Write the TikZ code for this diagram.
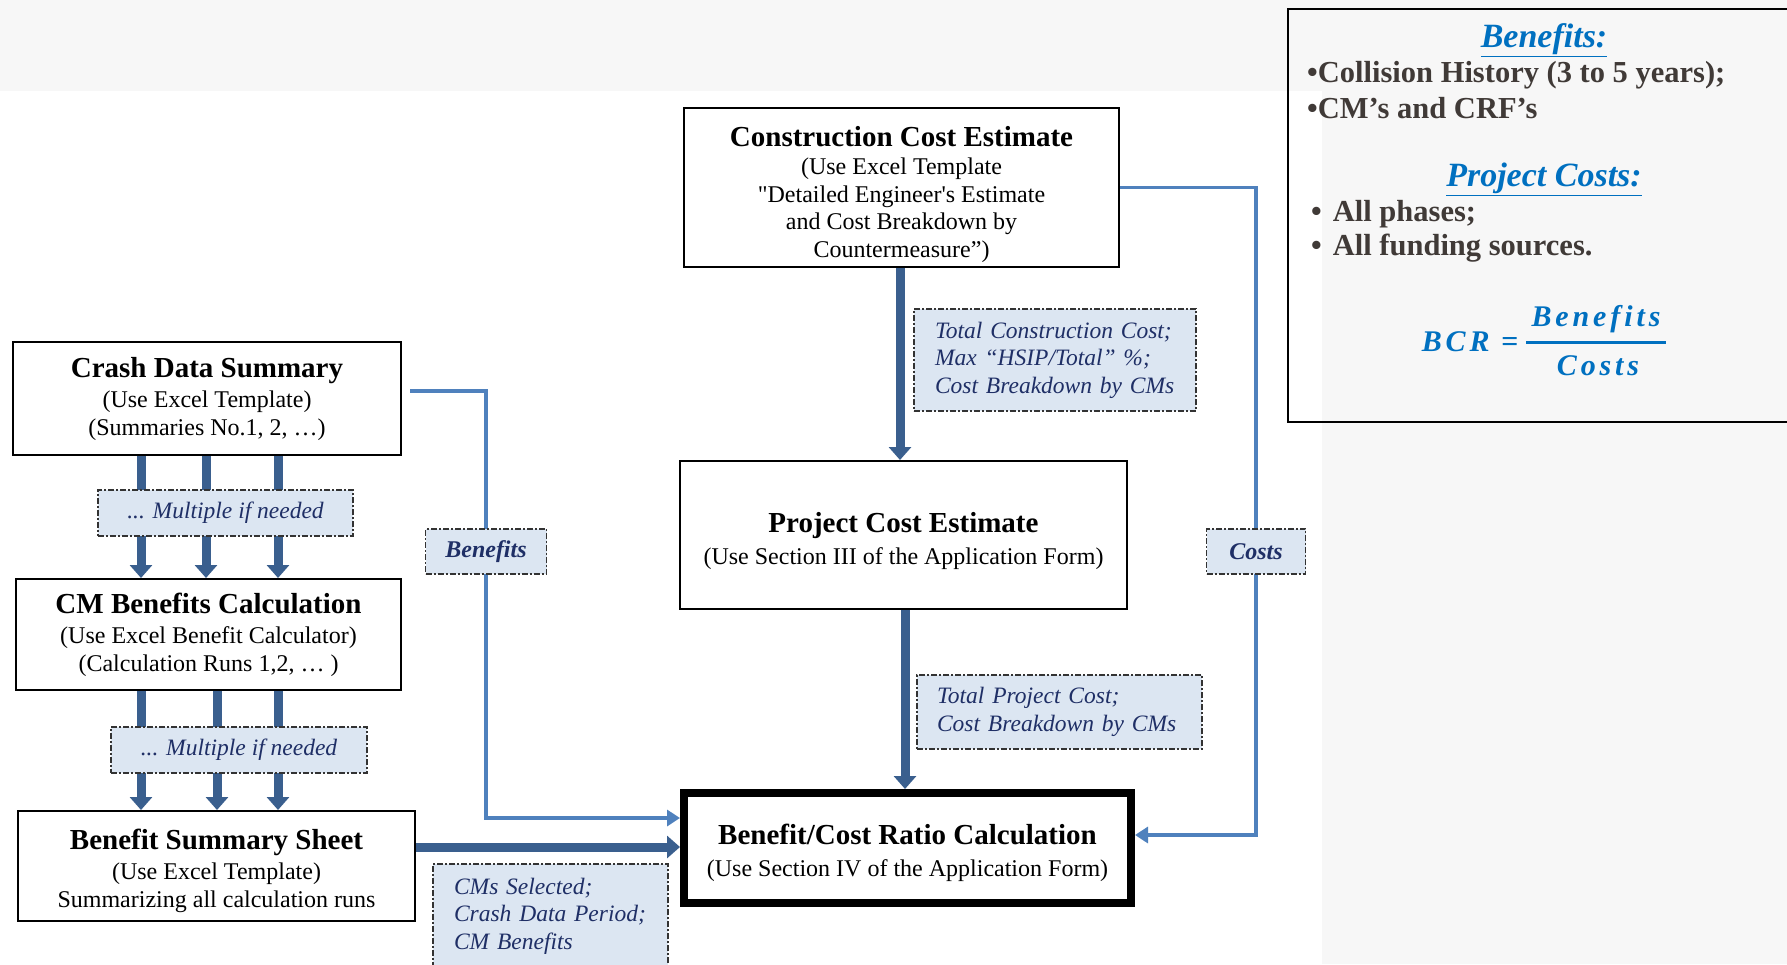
\documentclass[tikz,border=0pt]{standalone}
\usepackage{fontspec}
\setmainfont{Liberation Serif}
\newfontfamily\fmlfont{Liberation Serif}[LetterSpace=13]
\usetikzlibrary{arrows.meta}
\pgfdeclarelayer{bg}
\pgfsetlayers{bg,main}
\definecolor{thickblue}{HTML}{3A5F8E}
\definecolor{thinblue}{HTML}{4F81BD}
\definecolor{labfill}{HTML}{DCE6F2}
\definecolor{labtext}{HTML}{1F2F66}
\definecolor{infotext}{HTML}{403A37}
\definecolor{headblue}{HTML}{0070C0}
\definecolor{slidebg}{HTML}{F7F7F7}
\newcommand{\boxtitle}[1]{{\fontsize{29}{31}\selectfont\bfseries #1}}
\tikzset{
  box/.style={draw=black, line width=2pt, fill=white, align=center, inner sep=0pt,
    font=\fontsize{24}{27.5}\selectfont},
  lab/.style={draw=black!80, line width=1.3pt, dash pattern=on 6pt off 2pt on 2pt off 2pt,
    fill=labfill, text=labtext, inner sep=0pt, font=\fontsize{23.5}{27.5}\selectfont\itshape},
  boldlab/.style={lab, font=\fontsize{24}{27.5}\selectfont\bfseries\itshape},
  fatarrow/.style={draw=thickblue, line width=9pt, -{Triangle[width=22pt,length=13pt]}},
  slimarrow/.style={draw=thinblue, line width=3.5pt, -{Triangle[width=16pt,length=13pt]}},
  infohead/.style={inner sep=0pt, text=headblue, font=\fontsize{34}{36}\selectfont\bfseries\itshape},
  infoline/.style={inner sep=0pt, anchor=west, text=infotext, font=\fontsize{30.5}{34}\selectfont\bfseries},
  fml/.style={inner sep=0pt, text=headblue, font=\fontsize{30}{32}\selectfont\fmlfont\bfseries\itshape}
}
\begin{document}
\begin{tikzpicture}[x=1pt,y=-1pt]
\useasboundingbox (0,0) rectangle (1787,964);
\begin{pgfonlayer}{bg}
  \fill[slidebg] (0,0) rectangle (1787,964);
  \fill[white] (0,91) rectangle (1322,964);
\end{pgfonlayer}

% main boxes
\node[box, minimum width=435pt, minimum height=159pt] (cce) at (901.5,187.5)
  {\boxtitle{\rule{0pt}{34pt}Construction Cost Estimate}\\[1pt] (Use Excel Template\\ {\addfontfeature{Ligatures=TeXOff}"Detailed Engineer's} Estimate\\ and Cost Breakdown by\\ Countermeasure”)};
\node[box, minimum width=388pt, minimum height=113pt] (cds) at (207,398.5)
  {\boxtitle{Crash Data Summary}\\[3pt] (Use Excel Template)\\ (Summaries No.1, 2, …)};
\node[box, minimum width=385pt, minimum height=111pt] (cmb) at (208.5,634.5)
  {\boxtitle{CM Benefits Calculation}\\[3pt] (Use Excel Benefit Calculator)\\ (Calculation Runs 1,2, … )};
\node[box, minimum width=397pt, minimum height=110pt] (bss) at (216.5,866)
  {\boxtitle{\rule{0pt}{30pt}Benefit Summary Sheet}\\[3pt] (Use Excel Template)\\ Summarizing all calculation runs};
\node[box, minimum width=447pt, minimum height=148pt] (pce) at (903.5,535)
  {\boxtitle{\rule{0pt}{32pt}Project Cost Estimate}\\[4pt] (Use Section III of the Application Form)};
\node[box, line width=8pt, minimum width=447pt, minimum height=110pt] (bcr) at (907.5,848)
  {\boxtitle{\rule{0pt}{30pt}Benefit/Cost Ratio Calculation}\\[4pt] (Use Section IV of the Application Form)};

% labels
\node[lab, minimum width=255pt, minimum height=46pt] (mult1) at (225.5,513) {... Multiple if needed};
\node[lab, minimum width=256pt, minimum height=46pt] (mult2) at (239,750) {... Multiple if needed};
\node[boldlab, minimum width=121pt, minimum height=45pt] (benlab) at (486,551.5) {Benefits};
\node[boldlab, minimum width=99pt, minimum height=45pt] (costlab) at (1256,551.5) {Costs};
\node[lab, minimum width=282pt, minimum height=102pt, text width=240pt, align=left] (tcc) at (1055,360)
  {Total Construction Cost;\\ Max “HSIP/Total” \%;\\ Cost Breakdown by CMs};
\node[lab, minimum width=285pt, minimum height=74pt, text width=245pt, align=left] (tpc) at (1059.5,712)
  {Total Project Cost;\\ Cost Breakdown by CMs};
\node[lab, minimum width=235pt, minimum height=104pt, text width=193pt, align=left] (cms) at (550.5,916)
  {CMs Selected;\\ Crash Data Period;\\ CM Benefits};

% connectors
\begin{pgfonlayer}{bg}
  \foreach \dx in {-66,-1,71}
    \draw[fatarrow] ([xshift=\dx pt]cds.south) -- ([xshift=\dx pt]cds.south |- cmb.north);
  \foreach \dx in {-67.5,8.5,69.5}
    \draw[fatarrow] ([xshift=\dx pt]cmb.south) -- ([xshift=\dx pt]cmb.south |- bss.north);
  \draw[fatarrow] ([xshift=-1.5pt]cce.south) -- ([xshift=-1.5pt]cce.south |- pce.north);
  \draw[fatarrow] ([xshift=1.5pt]pce.south) -- ([xshift=1.5pt]pce.south |- bcr.north);
  \draw[fatarrow] ([yshift=19pt]bss.east) -- ([yshift=19pt]bss.east -| bcr.west);
  \draw[slimarrow] ([xshift=8pt,yshift=7.5pt]cds.east) -| (benlab.center) |- ([yshift=30pt]bcr.west);
  \draw[slimarrow] (cce.east) -| (costlab.center) |- ([yshift=13pt]bcr.east);
\end{pgfonlayer}

% info panel
\draw[line width=2.5pt] (1800,9) -- (1288,9) -- (1288,422) -- (1800,422);
\node[infohead] (bhead) at (1544,40) {\underline{Benefits:}};
\node[infoline] (b1) at (1307,75) {•Collision History (3 to 5 years);};
\node[infoline] (b2) at (1307,108) {•CM’s and CRF’s};
\node[infohead] (phead) at (1544,179) {\underline{Project Costs:}};
\node[infoline] (p1) at (1311,214) {•\hspace{11pt}All phases;};
\node[infoline] (p2) at (1311,248) {•\hspace{11pt}All funding sources.};
\node[fml] (lhs) at (1470,342) {BCR =};
\node[fml] (num) at (1596,319) {Benefits};
\node[fml] (den) at (1598,366) {Costs};
\draw[headblue, line width=3pt] (num.south west |- lhs.center) ++(-5,0) coordinate (fl) -- (fl -| num.south east) -- ++(5,0);
\end{tikzpicture}
\end{document}
